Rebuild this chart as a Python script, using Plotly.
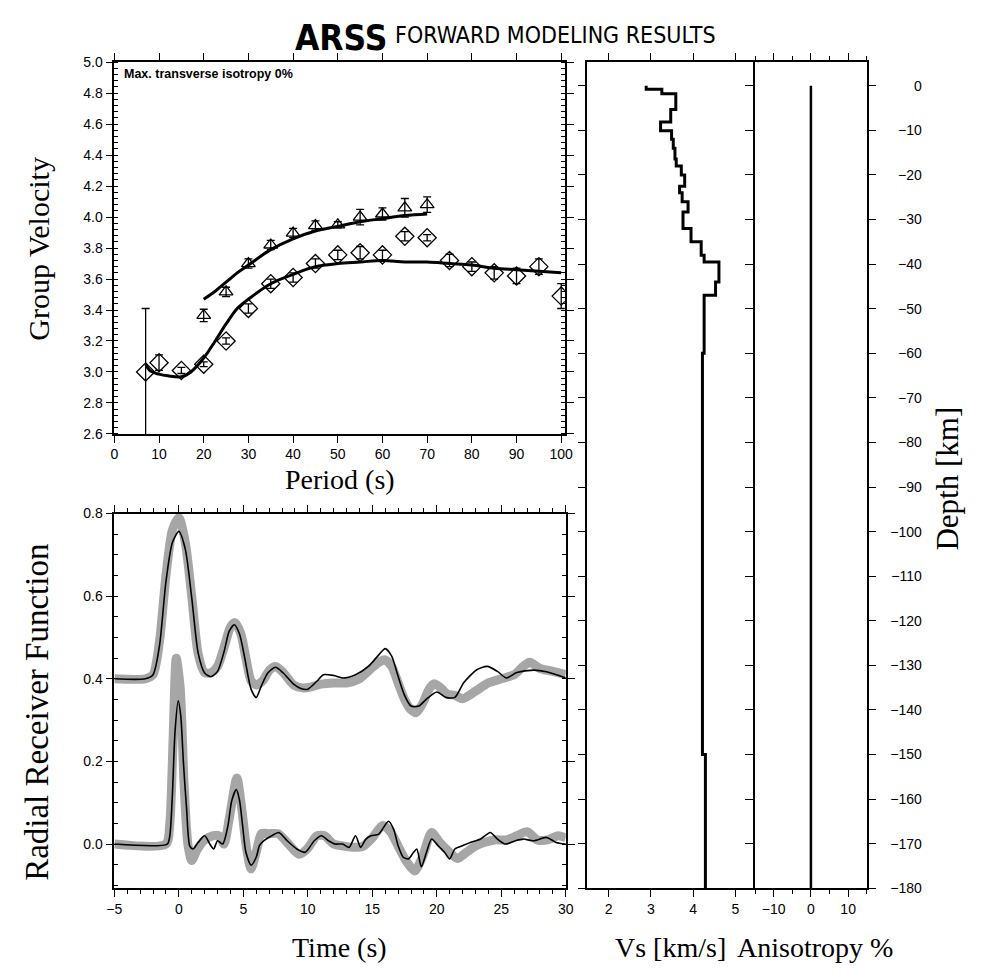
import plotly.graph_objects as go

# ---------------- DATA ----------------
# Dispersion data (period s, group velocity km/s, error)
diam_period = [7, 10, 15, 20, 25, 30, 35, 40, 45, 50, 55, 60, 65, 70, 75, 80, 85, 90, 95, 100]
diam_vel = [3.00, 3.06, 3.01, 3.05, 3.20, 3.41, 3.57, 3.61, 3.70, 3.756, 3.77, 3.756, 3.876, 3.867,
            3.72, 3.68, 3.64, 3.62, 3.68, 3.49]
diam_err = [0.41, 0.05, 0.02, 0.015, 0.02, 0.03, 0.03, 0.03, 0.03, 0.03, 0.04, 0.03, 0.03, 0.02,
            0.04, 0.03, 0.04, 0.05, 0.05, 0.08]

tri_period = [20, 25, 30, 35, 40, 45, 50, 55, 60, 65, 70]
tri_vel = [3.365, 3.517, 3.70, 3.82, 3.897, 3.945, 3.95, 4.00, 4.02, 4.06, 4.08]
tri_err = [0.04, 0.03, 0.03, 0.03, 0.03, 0.03, 0.02, 0.05, 0.04, 0.06, 0.05]

model_low_period = [7, 8, 10, 12, 15, 17, 20, 22.5, 25, 27.5, 30, 35, 40, 45, 50, 55, 60, 65, 70, 75, 80, 85, 90, 95, 100]
model_low_vel = [3.05, 3.007, 2.986, 2.975, 2.969, 2.997, 3.09, 3.197, 3.31, 3.41, 3.47, 3.57, 3.63, 3.68,
                 3.70, 3.71, 3.72, 3.71, 3.71, 3.70, 3.69, 3.67, 3.66, 3.65, 3.64]
model_up_period = [20, 22.5, 25, 27.5, 30, 35, 40, 45, 50, 55, 60, 65, 70]
model_up_vel = [3.47, 3.52, 3.58, 3.64, 3.69, 3.79, 3.86, 3.91, 3.94, 3.97, 3.99, 4.01, 4.02]

# Receiver functions (time s, amplitude)
rf_up_syn_t = [-5, -2.6, -2.0, -1.5, -1.0, -0.5, 0.0, 0.5, 1.0, 1.5, 2.0, 2.5, 3.0, 3.5, 3.9, 4.3, 4.7,
               5.1, 5.6, 6.0, 6.4, 6.9, 7.5, 8.1, 8.9, 9.5, 10.0, 10.7, 11.2, 12.0, 12.7, 13.7, 14.7,
               15.5, 16.0, 16.5, 17.0, 17.5, 18.0, 18.6, 19.2, 20.0, 20.7, 21.4, 22.1, 23.1, 23.9,
               24.7, 25.4, 26.2, 27.5, 28.5, 30.0]
rf_up_syn_v = [0.4, 0.4, 0.41, 0.48, 0.635, 0.73, 0.757, 0.714, 0.596, 0.462, 0.414, 0.405, 0.418,
               0.465, 0.515, 0.531, 0.509, 0.452, 0.375, 0.355, 0.383, 0.414, 0.428, 0.414, 0.387,
               0.376, 0.375, 0.394, 0.41, 0.408, 0.402, 0.41, 0.43, 0.458, 0.473, 0.455, 0.406,
               0.36, 0.334, 0.334, 0.351, 0.368, 0.355, 0.355, 0.391, 0.422, 0.43, 0.418, 0.402,
               0.415, 0.421, 0.417, 0.402]

rf_up_obs_t = [-5, -2.6, -2.0, -1.5, -1.0, -0.5, 0.0, 0.5, 1.0, 1.5, 2.0, 2.5, 3.0, 3.5, 4.0, 4.35,
               4.8, 5.2, 5.6, 6.0, 6.5, 7.0, 7.5, 8.1, 8.9, 9.6, 10.2, 11.0, 12.0, 13.0, 14.0, 14.8,
               15.5, 16.0, 16.5, 17.0, 17.5, 18.0, 18.4, 18.9, 19.4, 19.8, 20.3, 20.8, 21.4, 22.0,
               23.0, 24.0, 25.0, 26.0, 26.7, 27.2, 28.0, 29.0, 30.0]
rf_up_obs_v = [0.4, 0.4, 0.41, 0.49, 0.65, 0.76, 0.79, 0.73, 0.6, 0.46, 0.415, 0.415, 0.43, 0.475,
               0.525, 0.536, 0.51, 0.45, 0.395, 0.385, 0.395, 0.42, 0.43, 0.415, 0.385, 0.378, 0.38,
               0.387, 0.39, 0.39, 0.4, 0.422, 0.44, 0.446, 0.43, 0.39, 0.35, 0.325, 0.318, 0.34,
               0.375, 0.388, 0.378, 0.363, 0.36, 0.352, 0.37, 0.39, 0.40, 0.41, 0.43, 0.44, 0.425,
               0.418, 0.41]

rf_lo_syn_t = [-5, -0.9, -0.7, -0.5, -0.3, -0.05, 0.15, 0.35, 0.6, 0.85, 1.1, 1.5, 2.0, 2.4, 2.7,
               3.0, 3.4, 3.8, 4.1, 4.45, 4.7, 4.95, 5.2, 5.6, 6.0, 6.25, 6.6, 7.2, 7.75, 8.4, 9.15,
               9.8, 10.5, 11.05, 11.6, 12.1, 12.7, 13.2, 13.7, 14.1, 14.5, 14.9, 15.5, 16.25, 16.65,
               17.0, 17.4, 17.8, 18.2, 18.45, 18.8, 19.2, 19.6, 20.1, 20.6, 21.0, 21.4, 22.0, 22.6,
               23.4, 24.15, 24.7, 25.3, 26.1, 26.7, 27.5, 28.5, 29.25, 30.0]
rf_lo_syn_v = [0.0, 0.0, 0.02, 0.12, 0.27, 0.347, 0.31, 0.2, 0.085, -0.005, -0.012, 0.004, 0.02, 0.0,
               -0.012, 0.008, 0.0, 0.043, 0.105, 0.132, 0.107, 0.043, -0.02, -0.051, -0.032, -0.004,
               0.008, 0.02, 0.028, 0.008, -0.012, -0.02, 0.008, 0.02, 0.008, 0.0, 0.0, -0.008, 0.02,
               -0.008, 0.012, 0.02, 0.024, 0.055, 0.036, -0.004, -0.032, -0.036, -0.02, -0.012,
               -0.055, -0.02, 0.012, -0.004, -0.02, -0.036, -0.012, -0.004, 0.004, 0.012, 0.028,
               0.012, 0.0, 0.008, 0.012, 0.008, 0.016, 0.004, 0.0]

rf_lo_obs_t = [-5, -1.0, -0.7, -0.45, -0.2, 0.1, 0.4, 0.7, 1.0, 1.4, 2.0, 2.6, 3.1, 3.5, 3.9, 4.5,
               4.9, 5.2, 5.6, 6.0, 6.4, 7.0, 7.7, 8.5, 9.3, 10.0, 10.7, 11.3, 12.0, 12.8, 13.6, 14.3,
               15.0, 15.8, 16.4, 17.0, 17.6, 18.3, 18.9, 19.6, 20.2, 21.0, 21.6, 22.3, 23.0, 23.8,
               24.5, 25.4, 26.2, 27.0, 27.8, 28.6, 29.4, 30.0]
rf_lo_obs_v = [0.0, 0.0, 0.05, 0.25, 0.45, 0.38, 0.15, 0.0, -0.04, -0.015, 0.01, 0.02, 0.02, 0.0,
               0.06, 0.16, 0.08, 0.0, -0.06, -0.02, 0.025, 0.025, 0.025, 0.0, -0.025, -0.01, 0.02,
               0.02, 0.0, -0.005, -0.008, -0.005, 0.015, 0.045, 0.03, -0.005, -0.04, -0.065, -0.03,
               0.028, 0.005, -0.02, -0.035, -0.02, -0.005, 0.005, 0.01, 0.01, 0.02, 0.03, 0.01,
               0.01, 0.02, 0.015]

# Shear-velocity model: layer boundaries (depth km, positive down) and Vs per layer
layer_depths = [0, 0.75, 1.8, 5.3, 8.1, 10.1, 12, 14, 16.4, 18, 20, 22.5, 24, 26, 28.3, 32, 35,
                38, 39.5, 44, 47, 60, 150, 180]
layer_vs = [2.89, 3.26, 3.59, 3.47, 3.23, 3.49, 3.53, 3.57, 3.60, 3.72, 3.80, 3.68, 3.74, 3.88,
            3.76, 3.95, 4.19, 4.26, 4.61, 4.53, 4.26, 4.22, 4.29]
aniso_depths = [0, 180]
aniso_vals = [0, 0]

depth_ticks = [0, -10, -20, -30, -40, -50, -60, -70, -80, -90, -100, -110, -120, -130, -140,
               -150, -160, -170, -180]
period_ticks = [0, 10, 20, 30, 40, 50, 60, 70, 80, 90, 100]
time_ticks = [-5, 0, 5, 10, 15, 20, 25, 30]
vs_ticks = [2, 3, 4, 5]
aniso_ticks = [-10, 0, 10]

# ---------------- FIGURE ----------------
# the page body has an 8px margin: draw on a 970x961 figure, positions given in window pixels
OFF = 8
W, H = 986 - 2 * OFF, 977 - 2 * OFF
SANS = "Liberation Sans, Arial, sans-serif"
SERIF = "Liberation Serif, Times New Roman, serif"
COND = "Liberation Sans Narrow, DejaVu Sans Condensed, Liberation Sans, sans-serif"


def px(x):
    return (x - OFF) / W


def py(y):
    return 1 - (y - OFF) / H


def dx(a, b):
    return [px(a), px(b)]


def dy(top, bot):
    return [py(bot), py(top)]


fig = go.Figure()

# --- dispersion panel
fig.add_trace(go.Scatter(x=model_low_period, y=model_low_vel, mode="lines", line_shape="spline",
                         line=dict(color="black", width=3), xaxis="x", yaxis="y"))
fig.add_trace(go.Scatter(x=model_up_period, y=model_up_vel, mode="lines", line_shape="spline",
                         line=dict(color="black", width=3), xaxis="x", yaxis="y"))
fig.add_trace(go.Scatter(x=diam_period, y=diam_vel, mode="markers",
                         marker=dict(symbol="diamond-open", size=14, color="black", line=dict(width=1.3)),
                         error_y=dict(type="data", array=diam_err, color="black", thickness=1.3, width=4),
                         xaxis="x", yaxis="y"))
fig.add_trace(go.Scatter(x=tri_period, y=tri_vel, mode="markers",
                         marker=dict(symbol="triangle-up-open", size=12, color="black", line=dict(width=1.3)),
                         error_y=dict(type="data", array=tri_err, color="black", thickness=1.3, width=4),
                         xaxis="x", yaxis="y"))

# --- receiver functions
GREY = "#a6a6a6"
for t, v in [(rf_up_obs_t, rf_up_obs_v), (rf_lo_obs_t, rf_lo_obs_v)]:
    fig.add_trace(go.Scatter(x=t, y=v, mode="lines", line_shape="spline",
                             line=dict(color=GREY, width=9, smoothing=0.7), xaxis="x2", yaxis="y2"))
for t, v in [(rf_up_syn_t, rf_up_syn_v), (rf_lo_syn_t, rf_lo_syn_v)]:
    fig.add_trace(go.Scatter(x=t, y=v, mode="lines", line_shape="spline",
                             line=dict(color="black", width=1.6, smoothing=0.7), xaxis="x2", yaxis="y2"))

# --- Vs profile (step)
vs_x, vs_y = [], []
for i, v in enumerate(layer_vs):
    vs_x += [v, v]
    vs_y += [-layer_depths[i], -layer_depths[i + 1]]
fig.add_trace(go.Scatter(x=vs_x, y=vs_y, mode="lines", line=dict(color="black", width=3),
                         xaxis="x3", yaxis="y3"))

# --- anisotropy
fig.add_trace(go.Scatter(x=aniso_vals, y=[-d for d in aniso_depths], mode="lines",
                         line=dict(color="black", width=2.5), xaxis="x4", yaxis="y4"))
# invisible trace carrying the depth-label axis
fig.add_trace(go.Scatter(x=aniso_vals, y=[-d for d in aniso_depths], mode="lines",
                         line=dict(width=0), opacity=0, xaxis="x4", yaxis="y5", hoverinfo="skip"))

axis_common = dict(showline=True, linecolor="black", linewidth=1.5, mirror="ticks", ticks="outside",
                   tickcolor="black", tickwidth=1.3, ticklen=7, showgrid=False, zeroline=False,
                   tickfont=dict(family=SANS, size=14, color="black"), fixedrange=True)

depth_range = [-180, 5.3]

fig.update_layout(
    width=W, height=H, paper_bgcolor="white", plot_bgcolor="white", showlegend=False,
    margin=dict(l=0, r=0, t=0, b=0),
    xaxis=dict(axis_common, domain=dx(108, 566), range=[0, 100.8], anchor="y",
               tickvals=period_ticks),
    yaxis=dict(axis_common, domain=dy(55, 433), range=[2.6, 5.0], anchor="x", dtick=0.2,
               tickformat=".1f", minor=dict(dtick=0.04, ticks="inside", ticklen=4, tickcolor="black")),
    xaxis2=dict(axis_common, domain=dx(108, 567), range=[-5, 30], anchor="y2", tickvals=time_ticks,
                minor=dict(dtick=1, ticks="outside", ticklen=4, tickcolor="black")),
    yaxis2=dict(axis_common, domain=dy(514, 895), range=[-0.107, 0.8], anchor="x2", dtick=0.2,
                tickformat=".1f", minor=dict(dtick=0.05, ticks="inside", ticklen=4, tickcolor="black")),
    xaxis3=dict(axis_common, domain=dx(589, 761), range=[1.5, 5.5], anchor="y3", tickvals=vs_ticks),
    yaxis3=dict(axis_common, domain=dy(55, 895), range=depth_range, anchor="x3", tickvals=depth_ticks,
                showticklabels=False, ticklen=8),
    xaxis4=dict(axis_common, domain=dx(759.5, 873), range=[-15, 15], anchor="y4", tickvals=aniso_ticks,
                minor=dict(dtick=5, ticks="outside", ticklen=4, tickcolor="black")),
    yaxis4=dict(axis_common, domain=dy(55, 895), range=depth_range, anchor="x4", side="right",
                tickvals=depth_ticks, showticklabels=False, ticklen=8),
    yaxis5=dict(domain=dy(55, 895), range=depth_range, anchor="free", overlaying="y4", side="left",
                position=px(929), tickvals=depth_ticks, showline=False, ticks="", showgrid=False,
                zeroline=False, tickfont=dict(family=SANS, size=14, color="black"), fixedrange=True),
)


def ann(text, x, y, size, family=SERIF, angle=0, xanchor="center", bold=False, yanchor="middle"):
    fig.add_annotation(text=("<b>%s</b>" % text) if bold else text, x=px(x), y=py(y),
                       xref="paper", yref="paper", showarrow=False, textangle=angle,
                       xanchor=xanchor, yanchor=yanchor,
                       font=dict(family=family, size=size, color="black"))


ann("ARSS", 387, 8.5, 35, family=COND, xanchor="right", bold=True, yanchor="top")
ann("FORWARD MODELING RESULTS", 391, 27, 23, family=COND, xanchor="left")
ann("Max. transverse isotropy 0%", 116, 67, 12.5, family=SANS, xanchor="left", bold=True)
ann("Group Velocity", 30, 245, 30, angle=-90)
ann("Radial Receiver Function", 30, 716, 33, angle=-90)
ann("Period (s)", 337, 479, 28)
ann("Time (s)", 337, 955, 28)
ann("Vs [km/s]", 673, 955, 28)
ann("Anisotropy %", 820, 955, 28)
ann("Depth [km]", 955, 478, 31, angle=-90)

fig.write_html("out.html")
